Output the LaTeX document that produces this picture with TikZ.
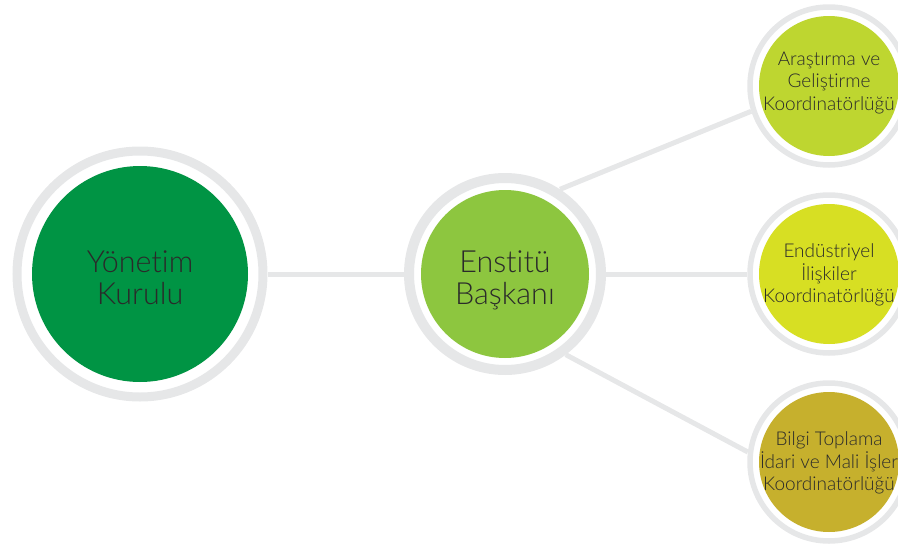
\documentclass[tikz,border=0pt]{standalone}
\usepackage{fontspec}
\IfFontExistsTF{Lato Light}{\setmainfont{Lato Light}[Ligatures={NoCommon}]}{\setmainfont{Liberation Sans}}
\usetikzlibrary{backgrounds}
\definecolor{ringgray}{HTML}{E6E7E8}
\definecolor{cYK}{HTML}{009444}
\definecolor{cEB}{HTML}{8DC63F}
\definecolor{cAR}{HTML}{BED630}
\definecolor{cEN}{HTML}{D7DF23}
\definecolor{cBT}{HTML}{C6B02D}
\definecolor{txtgray}{HTML}{2A2A2A}
\begin{document}
\begin{tikzpicture}[x=1pt,y=-1pt,
  ringbig/.style={circle, draw=ringgray, line width=9pt, fill=white, minimum size=246pt, inner sep=0pt},
  ringmid/.style={circle, draw=ringgray, line width=10pt, fill=white, minimum size=192pt, inner sep=0pt},
  ringsmall/.style={circle, draw=ringgray, line width=5.5pt, fill=white, minimum size=158pt, inner sep=0pt},
  disc/.style={circle, inner sep=0pt, draw=none},
  bigtext/.style={text=txtgray, align=center, font=\fontsize{30.5}{32}\selectfont, inner sep=0pt},
  smalltext/.style={text=txtgray, align=center, font=\fontsize{19}{22.5}\selectfont, inner sep=0pt},
  link/.style={draw=ringgray, line width=5pt}
]
\useasboundingbox (0,0) rectangle (898,544);
\clip (0,0) rectangle (898,544);

% rings
\node[ringbig]   (ykring) at (140,274) {};
\node[ringmid]   (ebring) at (505,274) {};
\node[ringsmall] (arring) at (829,86) {};
\node[ringsmall] (enring) at (829,274) {};
\node[ringsmall] (btring) at (829,462) {};

% coloured discs
\node[disc, fill=cYK, minimum size=216pt] (yk) at (140,274) {};
\node[disc, fill=cEB, minimum size=168pt] (eb) at (505,274) {};
\node[disc, fill=cAR, minimum size=140pt] (ar) at (829,86) {};
\node[disc, fill=cEN, minimum size=140pt] (en) at (829,274) {};
\node[disc, fill=cBT, minimum size=140pt] (bt) at (829,462) {};

% texts
\node[bigtext] (ykt) at (140,278) {Yönetim\\Kurulu};
\node[bigtext] (ebt) at (505,280) {Enstitü\\Başkanı};
\node[smalltext] (art) at (829,83) {Araştırma ve\\Geliştirme\\Koordinatörlüğü};
\node[smalltext] (ent) at (829,275) {Endüstriyel\\İlişkiler\\Koordinatörlüğü};
\node[smalltext] (btt) at (829,463) {Bilgi Toplama\\İdari ve Mali İşler\\Koordinatörlüğü};

% connectors
\begin{pgfonlayer}{background}
\draw[link] (ykring) -- (ebring);
\draw[link] (ebring) -- (enring);
\draw[link] (ebring.57.4) -- (arring.198.2);
\draw[link] (ebring.307.6) -- (btring.173.1);
\end{pgfonlayer}
\end{tikzpicture}
\end{document}
